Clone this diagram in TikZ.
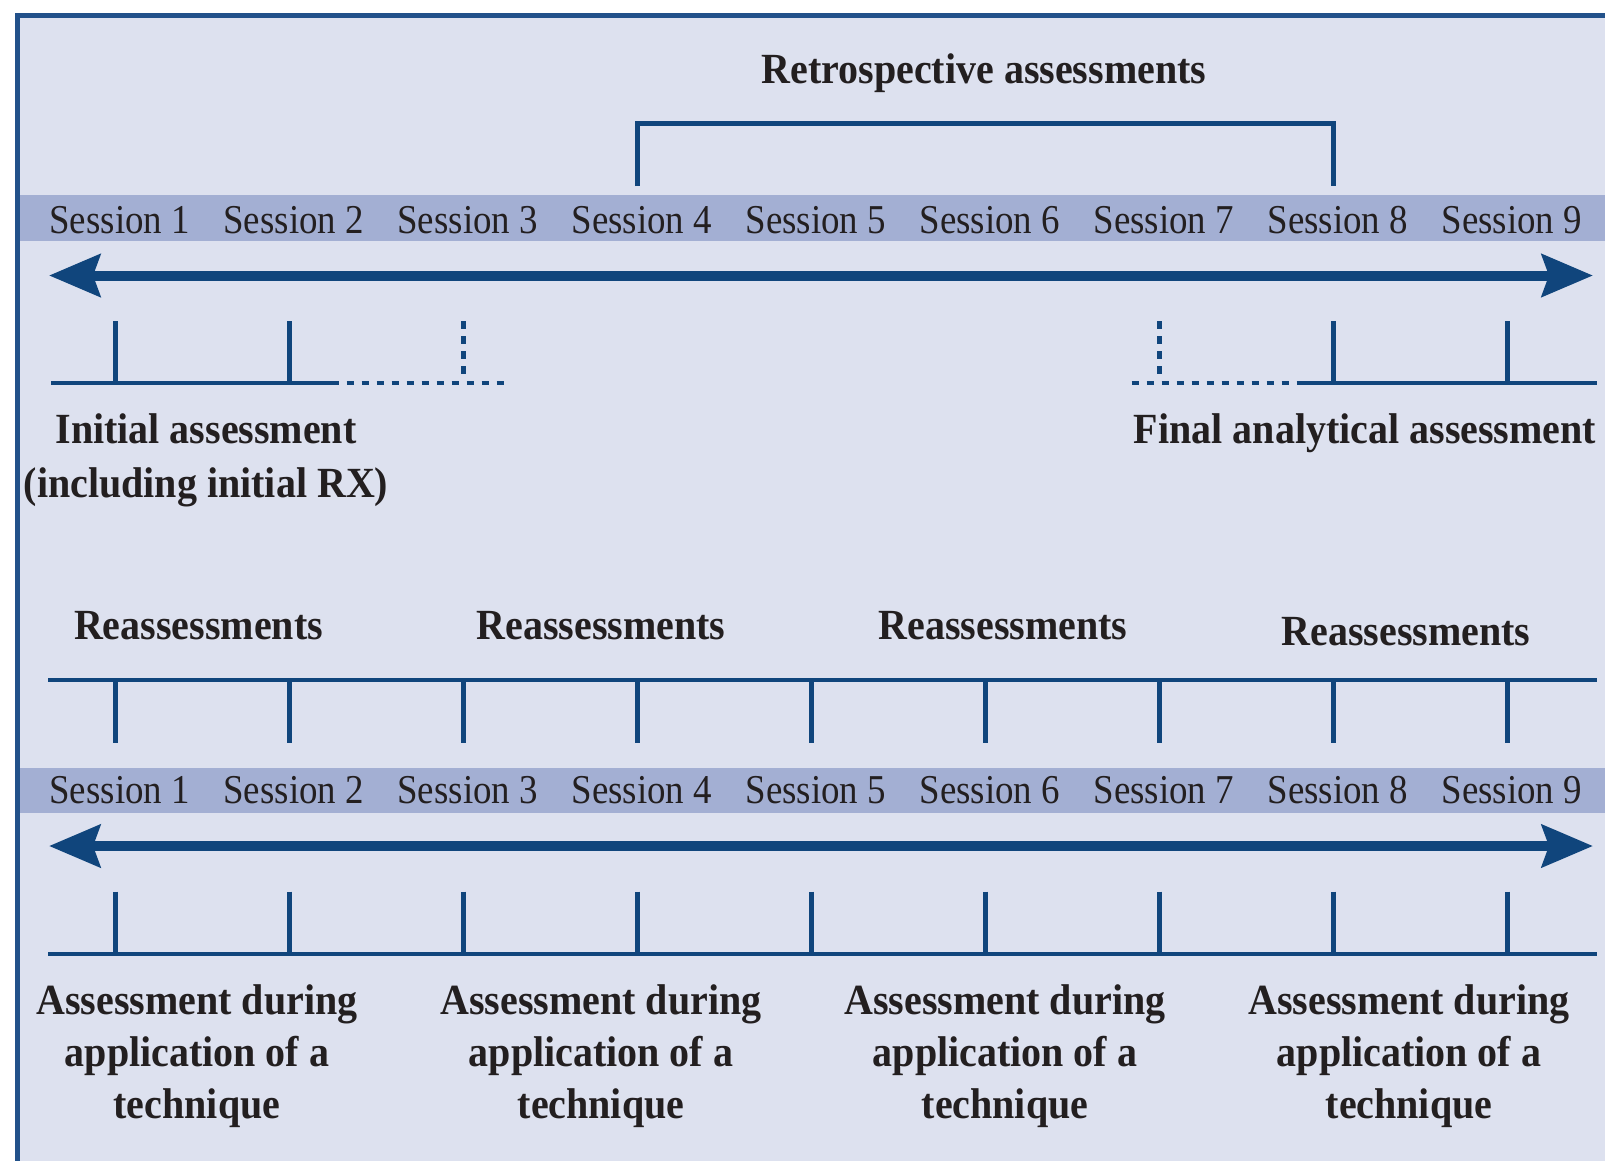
\documentclass[tikz,border=0pt]{standalone}
\usepackage{fontspec}
\setmainfont{Liberation Serif}
\newfontfamily\sessfont[FakeStretch=0.9]{Liberation Serif}
\newfontfamily\headfont[FakeStretch=0.93]{Liberation Serif Bold}
\usetikzlibrary{arrows.meta}

\definecolor{panel}{HTML}{DDE1EF}
\definecolor{bandcol}{HTML}{A3AFD3}
\definecolor{navy}{HTML}{10457C}
\definecolor{framecol}{HTML}{22518A}
\definecolor{ink}{HTML}{231F20}

\tikzset{
  sess/.style={anchor=base, inner sep=0pt, text=ink, font=\sessfont\fontsize{41}{49}\selectfont},
  head/.style={anchor=base, inner sep=0pt, text=ink, align=center, font=\headfont\fontsize{43}{52}\selectfont},
  rule/.style={navy, line width=4.8pt},
  dotrule/.style={navy, line width=4.8pt, dash pattern=on 7.5pt off 7.5pt},
  timearrow/.style={navy, line width=10pt,
    {Stealth[length=51pt,width=42pt,inset=7pt]}-{Stealth[length=51pt,width=42pt,inset=7pt]}},
}

\begin{document}
\begin{tikzpicture}[x=1pt,y=-1pt]
\useasboundingbox (0,0) rectangle (1605,1160);
\clip (0,0) rectangle (1605,1160);

% page, panel and frame
\fill[white] (0,0) rectangle (1605,1160);
\fill[panel] (17.5,15.5) rectangle (1625,1175);
\draw[framecol, line width=5pt] (17.5,1175) -- (17.5,15.5) -- (1625,15.5);

% session bands
\fill[bandcol] (20,195) rectangle (1605,241);
\fill[bandcol] (20,768) rectangle (1605,813);

% session labels
\foreach \k in {1,...,9}{
  \pgfmathsetmacro\sx{119.7+174*(\k-1)}
  \node[sess] (ua\k) at (\sx,233) {Session \k};
  \node[sess] (la\k) at (\sx,803) {Session \k};
}

% time arrows
\coordinate (ua-left) at (49,275.5);
\coordinate (ua-right) at (1593,275.5);
\draw[timearrow] (ua-left) -- (ua-right);
\coordinate (la-left) at (49,846);
\coordinate (la-right) at (1593,846);
\draw[timearrow] (la-left) -- (la-right);

% ---------- upper timeline ----------
\node[head] (retro) at (984,83) {Retrospective assessments};
\draw[navy, line width=5pt] (637.7,186) -- (637.7,123) -- (1333.7,123) -- (1333.7,186);

% initial assessment bracket
\draw[rule] (51,383) -- (331.7,383);
\draw[dotrule] (331.7,383) -- (505,383);
\foreach \k in {1,2}{
  \pgfmathsetmacro\tx{115.7+174*(\k-1)}
  \draw[rule] (\tx,321) -- (\tx,383);
}
\draw[dotrule] (463.7,321) -- (463.7,376);
% the base anchor of a multi-line node sits on its last line
\node[head, font=\headfont\fontsize{43}{54}\selectfont] (initial) at (206,497)
  {Initial assessment\\(including initial RX)};

% final assessment bracket
\draw[dotrule] (1131.7,383) -- (1298,383);
\draw[rule] (1298,383) -- (1597,383);
\foreach \k in {8,9}{
  \pgfmathsetmacro\tx{115.7+174*(\k-1)}
  \draw[rule] (\tx,321) -- (\tx,383);
}
\draw[dotrule] (1159.7,321) -- (1159.7,376);
\node[head] (final) at (1365,443) {Final analytical assessment};

% ---------- lower timeline ----------
\node[head] (re1) at (198.5,639) {Reassessments};
\node[head] (re2) at (601,639) {Reassessments};
\node[head] (re3) at (1003,639) {Reassessments};
\node[head] (re4) at (1406,645) {Reassessments};

\draw[rule] (48,680) -- (1597,680);
\draw[rule] (48,954) -- (1597,954);
\foreach \k in {1,...,9}{
  \pgfmathsetmacro\tx{115.7+174*(\k-1)}
  \draw[rule] (\tx,680) -- (\tx,743);
  \draw[rule] (\tx,891.5) -- (\tx,954);
}

\foreach \cx [count=\i] in {197,601,1005,1409}{
  \node[head] (app\i) at (\cx,1118) {Assessment during\\application of a\\technique};
}
\end{tikzpicture}
\end{document}
